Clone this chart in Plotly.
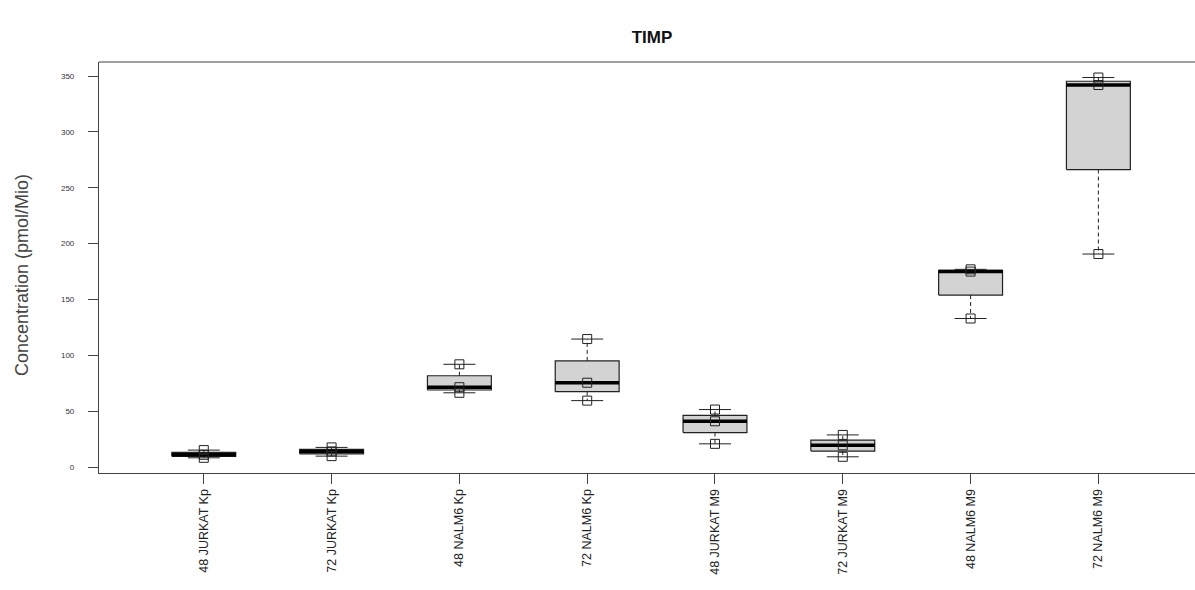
import numpy as np
import plotly.graph_objects as go

categories = ["48 JURKAT Kp", "72 JURKAT Kp", "48 NALM6 Kp", "72 NALM6 Kp",
              "48 JURKAT M9", "72 JURKAT M9", "48 NALM6 M9", "72 NALM6 M9"]
jurkat48_kp = [8.3, 11.0, 15.2]
jurkat72_kp = [9.8, 14.0, 17.6]
nalm48_kp = [66.5, 71.5, 92.0]
nalm72_kp = [59.5, 75.5, 114.6]
jurkat48_m9 = [20.8, 41.0, 51.5]
jurkat72_m9 = [9.2, 19.5, 28.8]
nalm48_m9 = [133.0, 175.0, 177.0]
nalm72_m9 = [190.7, 342.0, 348.7]
groups = [jurkat48_kp, jurkat72_kp, nalm48_kp, nalm72_kp,
          jurkat48_m9, jurkat72_m9, nalm48_m9, nalm72_m9]
ytick_vals = [0, 50, 100, 150, 200, 250, 300, 350]

BOX_HALF = 0.25
STAPLE_HALF = 0.125
LINE = "#222222"


def fivenum(v):
    s = np.sort(np.asarray(v, float))
    n = len(s)
    n4 = np.floor((n + 3) / 2) / 2
    d = np.array([1, n4, (n + 1) / 2, n + 1 - n4, n]) - 1
    return 0.5 * (s[np.floor(d).astype(int)] + s[np.ceil(d).astype(int)])


fig = go.Figure()
for i, vals in enumerate(groups):
    x = i + 1
    mn, q1, med, q3, mx = fivenum(vals)
    iqr = q3 - q1
    arr = np.asarray(vals, float)
    lo = arr[arr >= q1 - 1.5 * iqr].min()
    hi = arr[arr <= q3 + 1.5 * iqr].max()
    # box
    fig.add_trace(go.Scatter(
        x=[x - BOX_HALF, x + BOX_HALF, x + BOX_HALF, x - BOX_HALF, x - BOX_HALF],
        y=[q1, q1, q3, q3, q1], mode="lines", fill="toself",
        fillcolor="#d3d3d3", line=dict(color=LINE, width=1.2),
        hoverinfo="skip", showlegend=False))
    # whiskers (dashed)
    fig.add_trace(go.Scatter(
        x=[x, x, None, x, x], y=[q3, hi, None, q1, lo], mode="lines",
        line=dict(color=LINE, width=1, dash="4px,3px"),
        hoverinfo="skip", showlegend=False))
    # staples
    fig.add_trace(go.Scatter(
        x=[x - STAPLE_HALF, x + STAPLE_HALF, None, x - STAPLE_HALF, x + STAPLE_HALF],
        y=[hi, hi, None, lo, lo], mode="lines",
        line=dict(color=LINE, width=1), hoverinfo="skip", showlegend=False))
    # median
    fig.add_trace(go.Scatter(
        x=[x - BOX_HALF, x + BOX_HALF], y=[med, med], mode="lines",
        line=dict(color="#000000", width=3.5), hoverinfo="skip", showlegend=False))
    # points
    fig.add_trace(go.Scatter(
        x=[x] * len(vals), y=vals, mode="markers",
        marker=dict(symbol="square-open", size=9, color=LINE, line=dict(width=1, color=LINE)),
        showlegend=False, name=categories[i]))

fig.add_shape(type="line", xref="paper", yref="paper", x0=0, x1=1, y0=1, y1=1,
              line=dict(color="#444444", width=1.2))

fig.update_layout(
    width=1195, height=590,
    margin=dict(l=99, r=0, t=62, b=117),
    paper_bgcolor="white", plot_bgcolor="white",
    font=dict(family="Liberation Sans, Arial, sans-serif", color="#222222"),
    title=dict(text="<b>TIMP</b>", x=0.5046, xref="paper", xanchor="center",
               y=1 - 37 / 590, yref="container", yanchor="middle",
               font=dict(size=17, color="#111111")),
    xaxis=dict(range=[0.18, 8.756], tickmode="array",
               tickvals=list(range(1, len(categories) + 1)), ticktext=categories,
               tickangle=-90, ticks="outside", ticklen=10, tickcolor="#444444",
               showline=True, linecolor="#444444", linewidth=1.2,
               showgrid=False, zeroline=False, tickfont=dict(size=12.5, color="#222222")),
    yaxis=dict(range=[-5.3, 362.6], tickmode="array", tickvals=ytick_vals,
               ticks="outside", ticklen=10, tickcolor="#444444",
               showline=True, linecolor="#444444", linewidth=1.2,
               showgrid=False, zeroline=False, ticklabelstandoff=12,
               tickfont=dict(size=8, color="#333333")),
    annotations=[dict(text="Concentration (pmol/Mio)", xref="paper", yref="paper",
                      x=(22 - 99) / 1096, y=(473 - 275) / 411, xanchor="center",
                      yanchor="middle", textangle=-90, showarrow=False,
                      font=dict(size=18, color="#444444"))],
)

fig.write_html("out.html")
